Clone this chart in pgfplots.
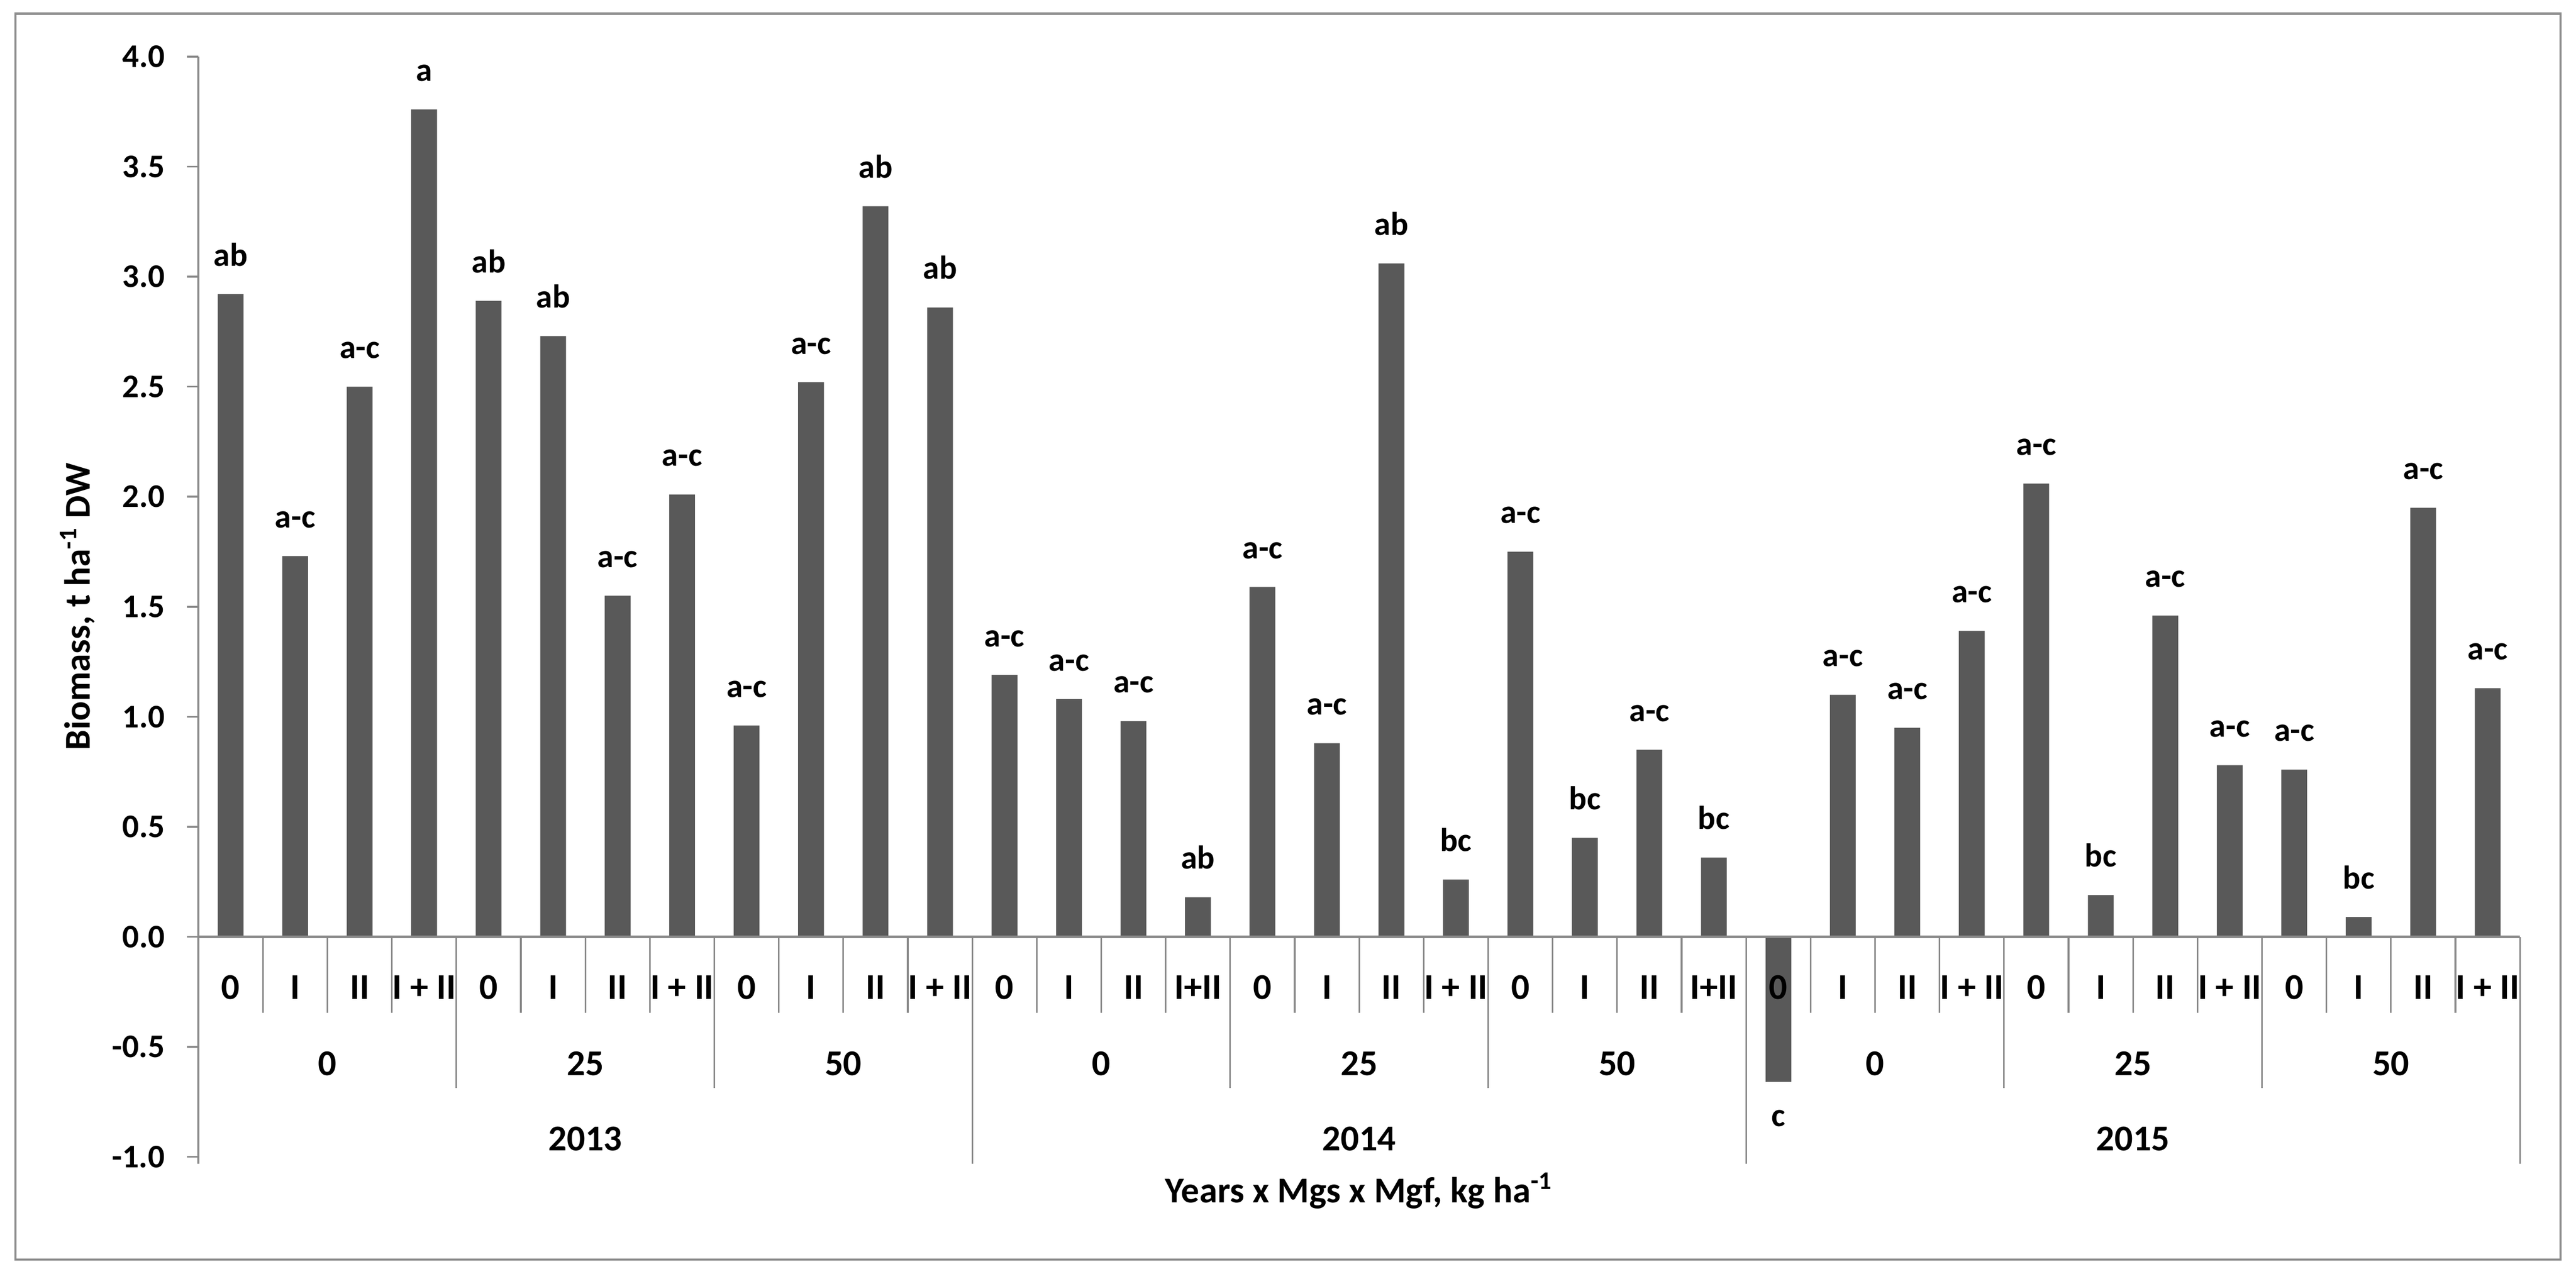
\documentclass[border=0pt]{standalone}
\usepackage{fontspec}
\setmainfont{Carlito}
\usepackage{pgfplots}
\pgfplotsset{compat=1.18}
\definecolor{barc}{HTML}{595959}
\definecolor{axc}{HTML}{898989}
\definecolor{framec}{HTML}{8C8C8C}

\begin{document}
\begin{tikzpicture}[font=\bfseries, c1/.style={font=\bfseries\fontsize{11}{13}\selectfont}]
\path[use as bounding box] (0,0) rectangle (780pt,385.72pt);
\draw[framec, line width=0.7pt] (4.71pt,4.28pt) rectangle (775.3pt,381.6pt);
\begin{axis}[
    at={(60.08pt,35.39pt)}, anchor=south west,
    scale only axis, width=702.94pt, height=333.2pt,
    xmin=-0.5, xmax=35.5, ymin=-1, ymax=4,
    axis x line=none,
    axis y line*=left,
    y axis line style={axc, line width=0.55pt, -},
    ytick={-1,-0.5,0,0.5,1,1.5,2,2.5,3,3.5,4},
    yticklabels={-1.0,-0.5,0.0,0.5,1.0,1.5,2.0,2.5,3.0,3.5,4.0},
    tick align=outside,
    major tick length=3.42pt,
    ytick style={axc, line width=0.55pt},
    yticklabel style={font=\bfseries\fontsize{10}{12}\selectfont, inner sep=0pt, xshift=-6.6pt},
    ybar, bar width=0.4, bar shift=0pt,
    clip=false,
    point meta=explicit symbolic,
    nodes near coords,
    every node near coord/.append style={font=\bfseries\fontsize{10}{12}\selectfont, inner xsep=0pt, inner ysep=8.3pt, black},
]

% 2013 | 2014 | 2015, each Mgs 0/25/50 x Mgf 0/I/II/I+II
\addplot[fill=barc, draw=none] coordinates {
    (0,2.92) [ab] (1,1.73) [a-c] (2,2.50) [a-c] (3,3.76) [a]
    (4,2.89) [ab] (5,2.73) [ab] (6,1.55) [a-c] (7,2.01) [a-c]
    (8,0.96) [a-c] (9,2.52) [a-c] (10,3.32) [ab] (11,2.86) [ab]
    (12,1.19) [a-c] (13,1.08) [a-c] (14,0.98) [a-c] (15,0.18) [ab]
    (16,1.59) [a-c] (17,0.88) [a-c] (18,3.06) [ab] (19,0.26) [bc]
    (20,1.75) [a-c] (21,0.45) [bc] (22,0.85) [a-c] (23,0.36) [bc]
    (25,1.10) [a-c] (26,0.95) [a-c] (27,1.39) [a-c]
    (28,2.06) [a-c] (29,0.19) [bc] (30,1.46) [a-c] (31,0.78) [a-c]
    (32,0.76) [a-c] (33,0.09) [bc] (34,1.95) [a-c] (35,1.13) [a-c]
};
% the one negative bar, letter below it
\addplot[fill=barc, draw=none,
    every node near coord/.append style={anchor=north}] coordinates {
    (24,-0.66) [c]
};

% axis line at zero and category separators
\draw[axc, line width=0.7pt] (axis cs:-0.5,0) -- (axis cs:35.5,0);
\draw[axc, line width=0.55pt] (axis cs:-0.5,-1) -- (axis cs:-0.5,-1.032);
\pgfplotsinvokeforeach{0.5,1.5,...,34.5}{
    \draw[axc, line width=0.5pt] (axis cs:#1,0) -- (axis cs:#1,-0.345);
}
\pgfplotsinvokeforeach{3.5,7.5,15.5,19.5,27.5,31.5}{
    \draw[axc, line width=0.5pt] (axis cs:#1,0) -- (axis cs:#1,-0.687);
}
\pgfplotsinvokeforeach{11.5,23.5,35.5}{
    \draw[axc, line width=0.5pt] (axis cs:#1,0) -- (axis cs:#1,-1.032);
}

% Mgf labels
\node[c1] at (axis cs:0,-0.229) {0};
\node[c1] at (axis cs:1,-0.229) {I};
\node[c1] at (axis cs:2,-0.229) {II};
\node[c1] at (axis cs:3,-0.229) {I + II};
\node[c1] at (axis cs:4,-0.229) {0};
\node[c1] at (axis cs:5,-0.229) {I};
\node[c1] at (axis cs:6,-0.229) {II};
\node[c1] at (axis cs:7,-0.229) {I + II};
\node[c1] at (axis cs:8,-0.229) {0};
\node[c1] at (axis cs:9,-0.229) {I};
\node[c1] at (axis cs:10,-0.229) {II};
\node[c1] at (axis cs:11,-0.229) {I + II};
\node[c1] at (axis cs:12,-0.229) {0};
\node[c1] at (axis cs:13,-0.229) {I};
\node[c1] at (axis cs:14,-0.229) {II};
\node[c1] at (axis cs:15,-0.229) {I+II};
\node[c1] at (axis cs:16,-0.229) {0};
\node[c1] at (axis cs:17,-0.229) {I};
\node[c1] at (axis cs:18,-0.229) {II};
\node[c1] at (axis cs:19,-0.229) {I + II};
\node[c1] at (axis cs:20,-0.229) {0};
\node[c1] at (axis cs:21,-0.229) {I};
\node[c1] at (axis cs:22,-0.229) {II};
\node[c1] at (axis cs:23,-0.229) {I+II};
\node[c1] at (axis cs:24,-0.229) {0};
\node[c1] at (axis cs:25,-0.229) {I};
\node[c1] at (axis cs:26,-0.229) {II};
\node[c1] at (axis cs:27,-0.229) {I + II};
\node[c1] at (axis cs:28,-0.229) {0};
\node[c1] at (axis cs:29,-0.229) {I};
\node[c1] at (axis cs:30,-0.229) {II};
\node[c1] at (axis cs:31,-0.229) {I + II};
\node[c1] at (axis cs:32,-0.229) {0};
\node[c1] at (axis cs:33,-0.229) {I};
\node[c1] at (axis cs:34,-0.229) {II};
\node[c1] at (axis cs:35,-0.229) {I + II};

% Mgs labels
\node[c1] at (axis cs:1.5,-0.576) {0};
\node[c1] at (axis cs:5.5,-0.576) {25};
\node[c1] at (axis cs:9.5,-0.576) {50};
\node[c1] at (axis cs:13.5,-0.576) {0};
\node[c1] at (axis cs:17.5,-0.576) {25};
\node[c1] at (axis cs:21.5,-0.576) {50};
\node[c1] at (axis cs:25.5,-0.576) {0};
\node[c1] at (axis cs:29.5,-0.576) {25};
\node[c1] at (axis cs:33.5,-0.576) {50};

% years
\node[c1] at (axis cs:5.5,-0.919) {2013};
\node[c1] at (axis cs:17.5,-0.919) {2014};
\node[c1] at (axis cs:29.5,-0.919) {2015};

% axis titles
\node[c1] at (axis cs:17.5,-1.154) {Years x Mgs x Mgf, kg ha\textsuperscript{-1}};
\node[c1, rotate=90] at (axis cs:-2.378,1.5) {Biomass, t ha\textsuperscript{-1} DW};

\end{axis}
\end{tikzpicture}
\end{document}
